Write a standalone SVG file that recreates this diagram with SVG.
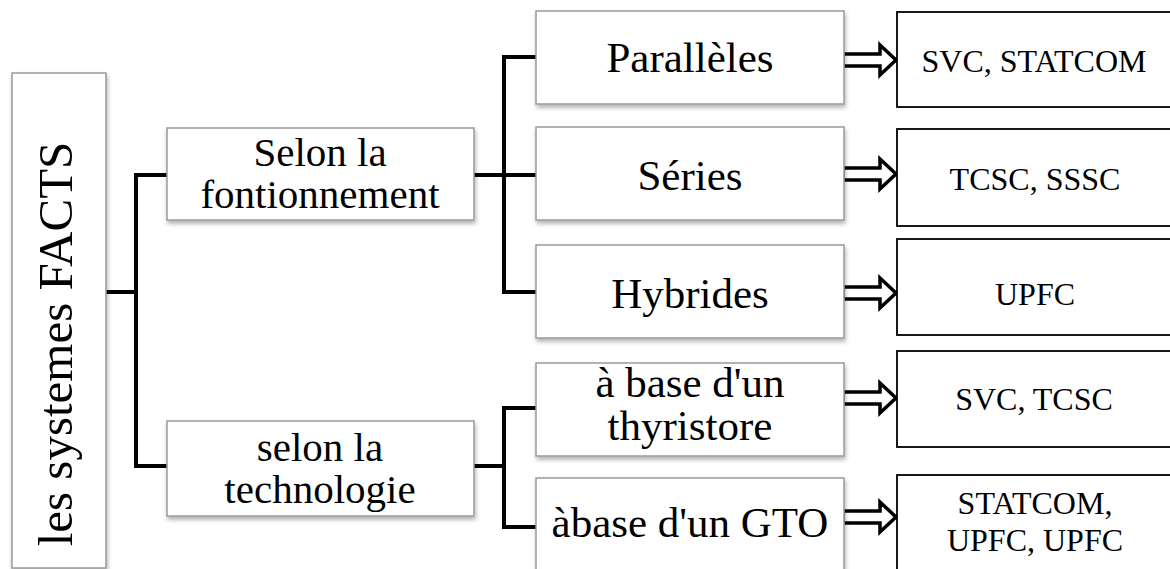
<svg xmlns="http://www.w3.org/2000/svg" width="1170" height="569" viewBox="0 0 1170 569">
<style>
.gbox{fill:#fff;stroke:#9a9a9a;stroke-width:1.5;filter:url(#sh)}
.bbox{fill:#fff;stroke:#000;stroke-width:1.8}
.t{font-family:"Liberation Serif","Times New Roman",serif;fill:#000;text-anchor:middle}
.big{font-size:43px}
.mid{font-size:41px}
.sm{font-size:32px}
.con{fill:none;stroke:#000;stroke-width:4;stroke-linecap:square;stroke-linejoin:miter}
.arr{fill:#fff;stroke:#000;stroke-width:3.5;stroke-linejoin:miter}
</style>
<defs>
<filter id="sh" x="-10%" y="-10%" width="120%" height="130%">
<feDropShadow dx="1" dy="3" stdDeviation="2" flood-color="#000" flood-opacity="0.3"/>
</filter>
<path id="ar" d="M0,-6 H37 V-15 L53,0 L37,15 V6 H0 Z"/>
</defs>
<rect width="1170" height="569" fill="#fff"/>
<g id="connectors">
<path class="con" d="M106,292 H136 M136,175 V466 M136,175 H166 M136,466 H166"/>
<path class="con" d="M475,175 H504 M504,57 V292 M504,57 H535 M504,175 H535 M504,292 H535"/>
<path class="con" d="M475,466 H504 M504,408 V527 M504,408 H535 M504,527 H535"/>
<use href="#ar" class="arr" x="843" y="60"/>
<use href="#ar" class="arr" x="843" y="174"/>
<use href="#ar" class="arr" x="843" y="293"/>
<use href="#ar" class="arr" x="843" y="398"/>
<use href="#ar" class="arr" x="843" y="517"/>
</g>
<g id="root">
<rect class="gbox" x="12" y="73" width="94" height="495"/>
<text class="t" font-size="49" transform="translate(72,344) rotate(-90)">les systemes FACTS</text>
</g>
<g id="fonctionnement">
<rect class="gbox" x="167" y="128" width="307" height="92"/>
<text class="t mid" x="320" y="166">Selon la</text>
<text class="t mid" x="320" y="208">fontionnement</text>
</g>
<g id="technologie">
<rect class="gbox" x="167" y="421" width="307" height="95"/>
<text class="t mid" x="320" y="461">selon la</text>
<text class="t mid" x="320" y="503">technologie</text>
</g>
<g id="paralleles">
<rect class="gbox" x="536" y="11" width="308" height="93"/>
<text class="t big" x="690" y="72">Parallèles</text>
</g>
<g id="series">
<rect class="gbox" x="536" y="127" width="308" height="93"/>
<text class="t big" x="690" y="190">Séries</text>
</g>
<g id="hybrides">
<rect class="gbox" x="536" y="245" width="308" height="93"/>
<text class="t big" x="690" y="308">Hybrides</text>
</g>
<g id="thyristore">
<rect class="gbox" x="536" y="363" width="308" height="93"/>
<text class="t big" x="690" y="397">à base d'un</text>
<text class="t big" x="690" y="440">thyristore</text>
</g>
<g id="gto">
<rect class="gbox" x="536" y="478" width="308" height="110"/>
<text class="t big" x="690" y="537">àbase d'un GTO</text>
</g>
<g id="r1">
<rect class="bbox" x="897" y="12" width="290" height="95"/>
<text class="t sm" x="1034" y="72">SVC, STATCOM</text>
</g>
<g id="r2">
<rect class="bbox" x="897" y="129" width="290" height="97"/>
<text class="t sm" x="1035" y="190">TCSC, SSSC</text>
</g>
<g id="r3">
<rect class="bbox" x="897" y="239" width="290" height="96"/>
<text class="t sm" x="1035" y="305">UPFC</text>
</g>
<g id="r4">
<rect class="bbox" x="897" y="351" width="290" height="96"/>
<text class="t sm" x="1034" y="410">SVC, TCSC</text>
</g>
<g id="r5">
<rect class="bbox" x="897" y="475" width="290" height="110"/>
<text class="t sm" x="1035" y="514">STATCOM,</text>
<text class="t sm" x="1035" y="551">UPFC, UPFC</text>
</g>
</svg>
